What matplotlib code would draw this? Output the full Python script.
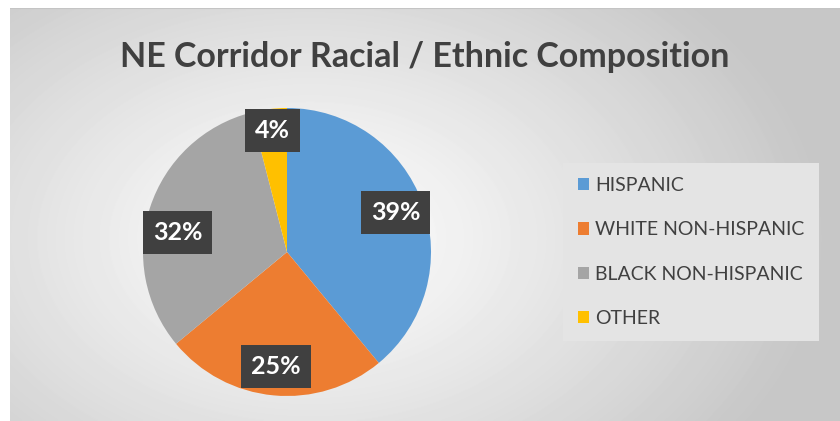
import numpy as np
import matplotlib
matplotlib.use('Agg')
import matplotlib.pyplot as plt

categories = ['HISPANIC', 'WHITE NON-HISPANIC', 'BLACK NON-HISPANIC', 'OTHER']
shares = [39, 25, 32, 4]
colors = ['#5B9BD5', '#ED7D31', '#A5A5A5', '#FFC000']
title = 'NE Corridor Racial / Ethnic Composition'

plt.rcParams['font.family'] = ['Lato', 'DejaVu Sans']

fig = plt.figure(figsize=(8.4, 4.21), dpi=100)
fig.patch.set_facecolor('white')

# Radial gradient background for the chart area.
bg = fig.add_axes([10 / 840, 0, 830 / 840, 413 / 421])
bg.set_axis_off()
yy, xx = np.mgrid[0:413, 0:830]
dist = np.sqrt(((xx - 300) / 620.0) ** 2 + ((yy - 230) / 420.0) ** 2)
shade = np.clip(1.0 - 0.27 * dist ** 1.1, 0.78, 1.0)
bg.imshow(shade, cmap='gray', vmin=0, vmax=1, aspect='auto', interpolation='bilinear')
bg.axhline(0, color='#C4C4C4', linewidth=1.5)

fig.text(425 / 840, 1 - 57 / 421, title, ha='center', va='center',
         fontsize=24.5, fontweight='bold', color='#404040')

# Pie axes: center at (287, 252), radius 144 px.
r = 144
ax = fig.add_axes([(287 - r) / 840, (421 - 252 - r) / 421, 2 * r / 840, 2 * r / 421])
wedges, _, autotexts = ax.pie(
    shares, colors=colors, startangle=90, counterclock=False,
    autopct='%d%%', pctdistance=0.8, radius=1.0,
    wedgeprops=dict(linewidth=0),
    textprops=dict(color='white', fontsize=18, fontweight='bold'))
for t in autotexts:
    t.set_bbox(dict(boxstyle='square,pad=0.4', facecolor='#404040', edgecolor='none'))
# nudge a couple of labels to where Excel put them
autotexts[3].set_y(autotexts[3].get_position()[1] + 0.05)
autotexts[2].set_y(autotexts[2].get_position()[1] - 0.11)
ax.set_xlim(-1, 1)
ax.set_ylim(-1, 1)
ax.set_aspect('auto')
ax.set_axis_off()

# Legend
leg = fig.legend(wedges, categories, loc='center left',
                 bbox_to_anchor=(563 / 840, 1 - 252 / 421),
                 frameon=True, fontsize=14, handlelength=0.6, handleheight=0.6,
                 handletextpad=0.3, labelspacing=1.4, borderpad=0.75,
                 borderaxespad=0, fancybox=False)
leg.get_frame().set_facecolor('#E4E4E4')
leg.get_frame().set_edgecolor('none')
leg.get_frame().set_alpha(1)
for t in leg.get_texts():
    t.set_color('#404040')

fig.savefig('out.png', dpi=100)
